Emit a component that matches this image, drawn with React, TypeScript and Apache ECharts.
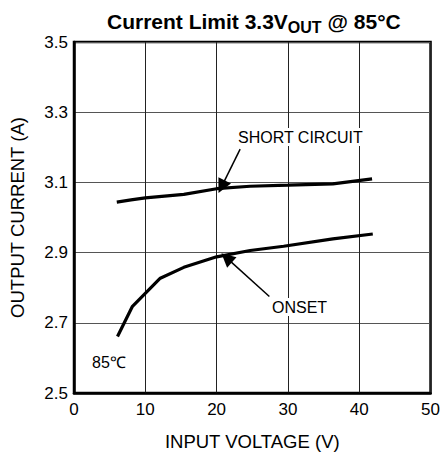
import React, { useEffect, useRef } from "react";
import * as echarts from "echarts";

const shortX = [6, 8, 10, 15.4, 20, 24.7, 30, 36.3, 41.8];
const shortY = [3.044, 3.05, 3.056, 3.066, 3.082, 3.089, 3.092, 3.096, 3.11];
const onsetX = [6.1, 8.2, 12.1, 15.4, 20, 24.7, 29.4, 36.3, 41.9];
const onsetY = [2.661, 2.747, 2.827, 2.858, 2.888, 2.906, 2.918, 2.939, 2.953];
const shortArrow = [[23.3, 3.195], [20.7, 3.088]];
const onsetArrow = [[27.4, 2.775], [21.4, 2.885]];

const FONT = "Liberation Sans, Arial, sans-serif";

export default function App() {
  const ref = useRef<HTMLDivElement>(null);
  useEffect(() => {
    if (!ref.current) return;
    const chart = echarts.init(ref.current, undefined, { renderer: "svg" });
    const pair = (xs: number[], ys: number[]) => xs.map((x, i) => [x, ys[i]]);
    chart.setOption({
      animation: false,
      backgroundColor: "#fff",
      textStyle: { fontFamily: FONT },
      title: {
        text: "Current Limit 3.3V{sub|OUT} @ 85°C",
        left: 102,
        top: 3,
        textStyle: {
          fontFamily: FONT,
          fontSize: 21,
          fontWeight: "bold",
          color: "#000",
          rich: {
            sub: {
              fontFamily: FONT,
              fontSize: 16,
              fontWeight: "bold",
              color: "#000",
              padding: [11, 0, 0, 0],
            },
          },
        },
      },
      grid: {
        left: 73,
        right: 12,
        top: 42,
        bottom: 58,
        show: true,
        borderColor: "#000",
        borderWidth: 2.5,
      },
      xAxis: {
        type: "value",
        min: 0,
        max: 50,
        interval: 10,
        name: "INPUT VOLTAGE (V)",
        nameLocation: "middle",
        nameGap: 39,
        nameTextStyle: { fontSize: 18.5, color: "#000", fontFamily: FONT },
        axisLine: { show: true, lineStyle: { color: "#000", width: 2.5 } },
        axisTick: { show: false },
        axisLabel: { fontSize: 17, color: "#000", margin: 8, fontFamily: FONT },
        splitLine: { show: true, lineStyle: { color: "#222", width: 1 } },
      },
      yAxis: {
        type: "value",
        min: 2.5,
        max: 3.5,
        interval: 0.2,
        name: "OUTPUT CURRENT (A)",
        nameLocation: "middle",
        nameGap: 47,
        nameTextStyle: { fontSize: 18.5, color: "#000", fontFamily: FONT },
        axisLine: { show: true, lineStyle: { color: "#000", width: 2.5 } },
        axisTick: { show: false },
        axisLabel: {
          fontSize: 17,
          color: "#000",
          margin: 6,
          fontFamily: FONT,
          formatter: (v: number) => v.toFixed(1),
        },
        splitLine: { show: true, lineStyle: { color: "#555", width: 1.2 } },
      },
      series: [
        {
          type: "line",
          name: "SHORT CIRCUIT",
          data: pair(shortX, shortY),
          showSymbol: false,
          symbol: "none",
          lineStyle: { color: "#000", width: 3.2 },
          z: 5,
        },
        {
          type: "line",
          name: "ONSET",
          data: pair(onsetX, onsetY),
          showSymbol: false,
          symbol: "none",
          lineStyle: { color: "#000", width: 3.2 },
          z: 5,
        },
        {
          type: "lines",
          coordinateSystem: "cartesian2d",
          symbol: ["none", "triangle"],
          symbolSize: [6, 14],
          lineStyle: { color: "#000", width: 1.5, opacity: 1 },
          itemStyle: { color: "#000" },
          data: [{ coords: shortArrow }, { coords: onsetArrow }],
          z: 6,
        },
      ],
      graphic: [
        {
          type: "text",
          left: 236,
          top: 128,
          z: 10,
          style: {
            text: "SHORT CIRCUIT",
            fontSize: 16,
            fontFamily: FONT,
            fill: "#000",
            backgroundColor: "#fff",
            padding: [1, 2],
          },
        },
        {
          type: "text",
          left: 270,
          top: 298,
          z: 10,
          style: {
            text: "ONSET",
            fontSize: 16,
            fontFamily: FONT,
            fill: "#000",
            backgroundColor: "#fff",
            padding: [1, 2],
          },
        },
        {
          type: "text",
          left: 90,
          top: 353,
          z: 10,
          style: {
            text: "85℃",
            fontSize: 16,
            fontFamily: FONT,
            fill: "#000",
            backgroundColor: "#fff",
            padding: [1, 2],
          },
        },
      ],
    });
    return () => chart.dispose();
  }, []);
  return (
    <div
      ref={ref}
      style={{ position: "fixed", left: 0, top: 0, width: 443, height: 456 }}
    />
  );
}
